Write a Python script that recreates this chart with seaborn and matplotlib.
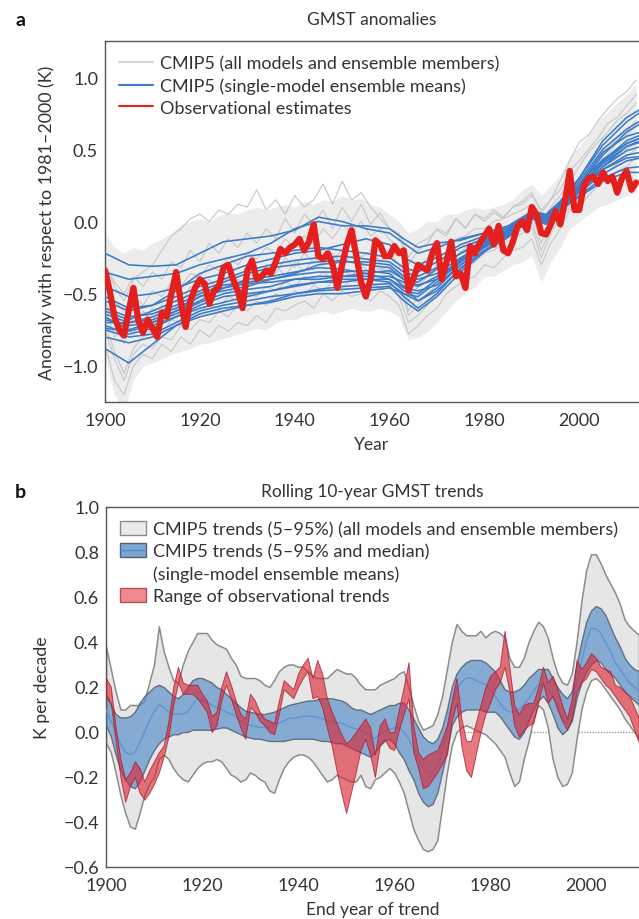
import numpy as np
import pandas as pd
import matplotlib
matplotlib.use("Agg")
import matplotlib.pyplot as plt
import seaborn as sns
from matplotlib.lines import Line2D
from matplotlib.patches import Patch
from matplotlib.ticker import FuncFormatter

# ------------------------------------------------------------------ data
# Panel a: observational estimate (annual, 1900-2012)
obs_years = list(range(1900, 2013))
obs = [-0.34, -0.48, -0.66, -0.75, -0.79, -0.62, -0.46, -0.68, -0.77, -0.68,
       -0.74, -0.80, -0.63, -0.66, -0.50, -0.35, -0.56, -0.73, -0.55, -0.46,
       -0.40, -0.43, -0.57, -0.48, -0.45, -0.32, -0.30, -0.40, -0.48, -0.60,
       -0.34, -0.27, -0.40, -0.38, -0.34, -0.36, -0.28, -0.19, -0.22, -0.18,
       -0.16, -0.12, -0.20, -0.14, -0.02, -0.24, -0.26, -0.22, -0.30, -0.46,
       -0.30, -0.16, -0.06, -0.24, -0.42, -0.52, -0.40, -0.13, -0.16, -0.24,
       -0.24, -0.17, -0.22, -0.20, -0.48, -0.40, -0.30, -0.32, -0.34, -0.22,
       -0.15, -0.40, -0.28, -0.14, -0.38, -0.36, -0.46, -0.17, -0.22, -0.15,
       -0.10, -0.05, -0.16, -0.03, -0.20, -0.22, -0.14, -0.03, 0.00, -0.06,
       0.10, 0.05, -0.08, -0.09, -0.02, 0.07, -0.02, 0.14, 0.35, 0.08,
       0.08, 0.25, 0.30, 0.31, 0.26, 0.34, 0.28, 0.31, 0.20, 0.30,
       0.35, 0.22, 0.27]

# Panel a: CMIP5 single-model ensemble means
mean_years = [1900, 1905, 1910, 1915, 1920, 1925, 1930, 1935, 1940, 1945, 1950, 1955, 1960,
              1963, 1966, 1970, 1975, 1980, 1985, 1990, 1993, 1996, 2000, 2005, 2010, 2013]
model_means = {
    "m01": [-0.22, -0.30, -0.31, -0.30, -0.22, -0.14, -0.12, -0.10, -0.06, 0.03, 0.00, -0.05, -0.08, -0.15, -0.22, -0.18, -0.12, -0.08, -0.03, 0.07, 0.04, 0.14, 0.30, 0.53, 0.69, 0.76],
    "m02": [-0.35, -0.40, -0.38, -0.36, -0.30, -0.26, -0.22, -0.15, -0.05, 0.00, -0.03, -0.03, -0.05, -0.12, -0.18, -0.15, -0.13, -0.08, -0.04, 0.06, 0.04, 0.12, 0.26, 0.48, 0.59, 0.62],
    "m03": [-0.55, -0.62, -0.58, -0.48, -0.36, -0.30, -0.24, -0.22, -0.20, -0.18, -0.20, -0.22, -0.25, -0.32, -0.35, -0.28, -0.18, -0.12, -0.06, 0.06, 0.02, 0.11, 0.26, 0.43, 0.54, 0.58],
    "m04": [-0.62, -0.68, -0.62, -0.55, -0.48, -0.42, -0.36, -0.32, -0.30, -0.28, -0.27, -0.30, -0.32, -0.40, -0.42, -0.33, -0.22, -0.14, -0.07, 0.05, 0.01, 0.10, 0.23, 0.40, 0.52, 0.55],
    "m05": [-0.66, -0.75, -0.70, -0.62, -0.55, -0.46, -0.40, -0.38, -0.35, -0.32, -0.33, -0.36, -0.40, -0.48, -0.50, -0.40, -0.26, -0.15, -0.07, 0.06, 0.02, 0.11, 0.22, 0.36, 0.46, 0.48],
    "m06": [-0.70, -0.70, -0.66, -0.60, -0.52, -0.48, -0.45, -0.40, -0.37, -0.35, -0.35, -0.34, -0.36, -0.45, -0.55, -0.46, -0.30, -0.18, -0.09, 0.04, 0.01, 0.10, 0.20, 0.33, 0.42, 0.44],
    "m07": [-0.72, -0.78, -0.74, -0.66, -0.58, -0.52, -0.50, -0.48, -0.45, -0.42, -0.40, -0.40, -0.42, -0.52, -0.60, -0.50, -0.32, -0.20, -0.10, 0.03, -0.01, 0.09, 0.18, 0.30, 0.37, 0.38],
    "m08": [-0.75, -0.80, -0.78, -0.70, -0.62, -0.58, -0.55, -0.52, -0.50, -0.48, -0.47, -0.46, -0.45, -0.55, -0.62, -0.52, -0.35, -0.21, -0.11, 0.02, -0.02, 0.08, 0.17, 0.28, 0.34, 0.34],
    "m09": [-0.88, -0.98, -0.85, -0.72, -0.64, -0.60, -0.58, -0.56, -0.52, -0.50, -0.50, -0.48, -0.46, -0.50, -0.55, -0.48, -0.33, -0.20, -0.10, 0.03, 0.00, 0.09, 0.20, 0.36, 0.44, 0.45],
    "m10": [-0.80, -0.84, -0.80, -0.72, -0.66, -0.62, -0.58, -0.55, -0.50, -0.47, -0.45, -0.44, -0.43, -0.50, -0.52, -0.42, -0.28, -0.17, -0.08, 0.05, 0.02, 0.12, 0.24, 0.42, 0.56, 0.60],
    "m11": [-0.60, -0.66, -0.64, -0.58, -0.50, -0.44, -0.42, -0.40, -0.36, -0.30, -0.28, -0.28, -0.30, -0.38, -0.40, -0.36, -0.25, -0.16, -0.08, 0.04, 0.02, 0.11, 0.25, 0.46, 0.62, 0.68],
    "m12": [-0.68, -0.72, -0.70, -0.64, -0.56, -0.50, -0.47, -0.45, -0.40, -0.38, -0.38, -0.38, -0.38, -0.42, -0.45, -0.38, -0.27, -0.16, -0.08, 0.05, 0.03, 0.12, 0.23, 0.38, 0.49, 0.52],
    "m13": [-0.52, -0.60, -0.58, -0.52, -0.45, -0.40, -0.34, -0.30, -0.27, -0.25, -0.24, -0.26, -0.28, -0.35, -0.38, -0.32, -0.22, -0.13, -0.06, 0.06, 0.04, 0.13, 0.28, 0.50, 0.64, 0.70],
    "m14": [-0.74, -0.76, -0.72, -0.66, -0.60, -0.56, -0.52, -0.48, -0.44, -0.42, -0.42, -0.40, -0.40, -0.46, -0.48, -0.44, -0.30, -0.18, -0.09, 0.04, 0.01, 0.10, 0.21, 0.38, 0.52, 0.56],
    "m15": [-0.64, -0.70, -0.68, -0.62, -0.52, -0.46, -0.43, -0.42, -0.40, -0.40, -0.38, -0.36, -0.34, -0.40, -0.44, -0.40, -0.28, -0.17, -0.08, 0.04, 0.02, 0.11, 0.22, 0.41, 0.54, 0.58],
    "m16": [-0.45, -0.52, -0.50, -0.46, -0.40, -0.36, -0.30, -0.26, -0.22, -0.20, -0.16, -0.12, -0.16, -0.25, -0.30, -0.25, -0.16, -0.10, -0.05, 0.07, 0.05, 0.14, 0.30, 0.56, 0.72, 0.78],
}

# Panel a: CMIP5 individual members (every 2nd year, 1900-2012) and their spread
member_years = list(range(1900, 2013, 2))
members = {
    "r01": [-0.30, -0.42, -0.50, -0.38, -0.45, -0.35, -0.40, -0.28, -0.32, -0.20,
            -0.28, -0.15, -0.22, -0.12, -0.18, -0.08, -0.15, -0.05, -0.12, 0.02,
            -0.08, 0.05, -0.02, 0.08, -0.05, 0.10, 0.00, 0.12, -0.02, 0.06,
            -0.05, -0.08, -0.25, -0.15, -0.12, -0.06, -0.10, 0.02, -0.05, 0.05,
            0.00, 0.06, 0.02, 0.10, 0.12, 0.18, 0.08, 0.15, 0.22, 0.35,
            0.42, 0.50, 0.58, 0.68, 0.72, 0.80, 0.88],
    "r02": [-0.85, -1.10, -1.20, -1.00, -0.92, -0.95, -0.85, -0.90, -0.80, -0.85,
            -0.75, -0.80, -0.72, -0.76, -0.70, -0.72, -0.65, -0.70, -0.60, -0.62,
            -0.58, -0.55, -0.60, -0.50, -0.55, -0.48, -0.52, -0.50, -0.55, -0.48,
            -0.52, -0.58, -0.78, -0.72, -0.65, -0.60, -0.50, -0.45, -0.40, -0.38,
            -0.30, -0.32, -0.25, -0.20, -0.18, -0.12, -0.30, -0.15, -0.05, 0.08,
            0.10, 0.18, 0.25, 0.30, 0.35, 0.38, 0.45],
    "r03": [-0.55, -0.70, -0.85, -0.65, -0.70, -0.60, -0.65, -0.52, -0.58, -0.45,
            -0.52, -0.40, -0.48, -0.38, -0.45, -0.35, -0.40, -0.30, -0.36, -0.25,
            -0.32, -0.22, -0.28, -0.18, -0.26, -0.20, -0.15, -0.25, -0.20, -0.28,
            -0.22, -0.30, -0.55, -0.45, -0.38, -0.30, -0.32, -0.20, -0.22, -0.15,
            -0.12, -0.10, -0.05, -0.08, 0.00, 0.05, -0.15, 0.02, 0.10, 0.20,
            0.28, 0.35, 0.45, 0.50, 0.58, 0.62, 0.70],
    "r04": [-0.70, -0.90, -1.05, -0.88, -0.80, -0.75, -0.78, -0.68, -0.70, -0.62,
            -0.62, -0.58, -0.60, -0.52, -0.55, -0.50, -0.52, -0.45, -0.48, -0.42,
            -0.45, -0.38, -0.42, -0.35, -0.40, -0.34, -0.38, -0.30, -0.36, -0.32,
            -0.35, -0.42, -0.65, -0.58, -0.50, -0.44, -0.38, -0.32, -0.28, -0.24,
            -0.20, -0.16, -0.14, -0.08, -0.06, 0.00, -0.20, -0.05, 0.05, 0.12,
            0.18, 0.25, 0.32, 0.40, 0.45, 0.50, 0.56],
    "r05": [-0.45, -0.55, -0.62, -0.50, -0.58, -0.48, -0.52, -0.42, -0.45, -0.36,
            -0.38, -0.30, -0.34, -0.25, -0.30, -0.22, -0.26, -0.18, -0.22, -0.12,
            -0.18, -0.10, -0.15, -0.05, -0.12, -0.02, -0.08, 0.00, -0.10, -0.05,
            -0.12, -0.18, -0.40, -0.32, -0.25, -0.20, -0.15, -0.12, -0.10, -0.05,
            -0.05, 0.00, 0.02, 0.05, 0.08, 0.12, -0.02, 0.10, 0.18, 0.28,
            0.38, 0.48, 0.55, 0.62, 0.70, 0.75, 0.82],
    "r06": [-0.60, -0.80, -0.72, -0.78, -0.62, -0.70, -0.58, -0.66, -0.55, -0.60,
            -0.48, -0.55, -0.44, -0.50, -0.40, -0.46, -0.35, -0.42, -0.30, -0.38,
            -0.28, -0.35, -0.25, -0.30, -0.22, -0.30, -0.24, -0.32, -0.26, -0.34,
            -0.30, -0.36, -0.62, -0.52, -0.45, -0.40, -0.28, -0.25, -0.18, -0.20,
            -0.10, -0.12, -0.06, -0.04, 0.02, 0.04, -0.10, 0.00, 0.12, 0.18,
            0.25, 0.32, 0.40, 0.46, 0.55, 0.60, 0.66],
    "r07": [-0.75, -0.95, -1.10, -0.92, -0.85, -0.88, -0.80, -0.82, -0.72, -0.75,
            -0.68, -0.70, -0.62, -0.66, -0.58, -0.62, -0.55, -0.58, -0.50, -0.54,
            -0.48, -0.52, -0.44, -0.48, -0.42, -0.46, -0.40, -0.44, -0.42, -0.46,
            -0.44, -0.52, -0.70, -0.65, -0.58, -0.48, -0.42, -0.35, -0.32, -0.28,
            -0.22, -0.20, -0.15, -0.12, -0.08, -0.04, -0.25, -0.08, 0.02, 0.10,
            0.15, 0.22, 0.28, 0.34, 0.40, 0.45, 0.50],
    "r08": [-0.30, -0.45, -0.55, -0.40, -0.35, -0.30, -0.20, -0.10, -0.05, 0.02,
            0.05, 0.00, 0.08, 0.05, 0.12, 0.10, 0.22, 0.08, 0.15, 0.05,
            0.18, 0.10, 0.15, 0.26, 0.12, 0.28, 0.15, 0.20, 0.10, 0.02,
            -0.05, -0.10, -0.30, -0.20, -0.15, -0.05, -0.08, 0.02, -0.04, 0.05,
            0.02, 0.08, 0.03, 0.10, 0.14, 0.20, 0.06, 0.15, 0.28, 0.42,
            0.55, 0.60, 0.70, 0.78, 0.85, 0.90, 0.98],
}
member_hi = [-0.08, -0.18, -0.22, -0.18, -0.20, -0.15, -0.12, -0.08, -0.02, 0.00,
             0.02, 0.00, 0.04, 0.06, 0.05, 0.08, 0.10, 0.08, 0.10, 0.12,
             0.10, 0.14, 0.12, 0.15, 0.14, 0.18, 0.15, 0.16, 0.12, 0.10,
             0.05, 0.00, -0.08, -0.05, 0.00, 0.00, 0.05, 0.05, 0.08, 0.10,
             0.08, 0.10, 0.12, 0.15, 0.22, 0.26, 0.18, 0.25, 0.32, 0.45,
             0.52, 0.60, 0.70, 0.76, 0.82, 0.88, 0.95]
member_lo = [-0.95, -1.20, -1.30, -1.10, -1.00, -0.98, -0.95, -0.92, -0.90, -0.88,
             -0.85, -0.84, -0.82, -0.80, -0.78, -0.76, -0.74, -0.75, -0.70, -0.68,
             -0.68, -0.65, -0.64, -0.62, -0.64, -0.62, -0.60, -0.62, -0.62, -0.60,
             -0.62, -0.66, -0.82, -0.80, -0.76, -0.70, -0.62, -0.55, -0.50, -0.45,
             -0.38, -0.38, -0.34, -0.30, -0.28, -0.24, -0.42, -0.28, -0.18, -0.05,
             0.00, 0.05, 0.10, 0.12, 0.15, 0.18, 0.20]

# Panel b: rolling 10-year trends (K per decade), end years 1900-2011
trend_years = list(range(1900, 2012))
all_hi = [0.38, 0.28, 0.18, 0.10, 0.10, 0.12, 0.12, 0.12, 0.14, 0.22,
          0.30, 0.47, 0.36, 0.29, 0.23, 0.22, 0.30, 0.36, 0.40, 0.44,
          0.44, 0.44, 0.41, 0.39, 0.38, 0.37, 0.33, 0.30, 0.25, 0.24,
          0.24, 0.24, 0.23, 0.21, 0.20, 0.23, 0.27, 0.29, 0.30, 0.30,
          0.29, 0.29, 0.27, 0.25, 0.24, 0.24, 0.24, 0.26, 0.28, 0.27,
          0.26, 0.26, 0.24, 0.21, 0.19, 0.19, 0.19, 0.21, 0.22, 0.23,
          0.24, 0.26, 0.27, 0.20, 0.12, 0.05, 0.01, 0.02, 0.03, 0.08,
          0.16, 0.28, 0.40, 0.48, 0.45, 0.43, 0.43, 0.43, 0.45, 0.42,
          0.44, 0.45, 0.44, 0.42, 0.33, 0.29, 0.29, 0.33, 0.40, 0.45,
          0.49, 0.47, 0.42, 0.33, 0.26, 0.22, 0.21, 0.26, 0.40, 0.58,
          0.72, 0.79, 0.79, 0.75, 0.70, 0.66, 0.62, 0.57, 0.50, 0.47,
          0.45, 0.43]
all_lo = [-0.05, -0.09, -0.18, -0.28, -0.36, -0.42, -0.43, -0.36, -0.28, -0.23,
          -0.20, -0.12, -0.10, -0.12, -0.16, -0.19, -0.21, -0.22, -0.19, -0.16,
          -0.14, -0.13, -0.13, -0.12, -0.13, -0.16, -0.19, -0.20, -0.22, -0.21,
          -0.18, -0.19, -0.21, -0.22, -0.26, -0.27, -0.21, -0.16, -0.13, -0.11,
          -0.10, -0.10, -0.11, -0.13, -0.16, -0.19, -0.22, -0.21, -0.19, -0.20,
          -0.21, -0.22, -0.22, -0.19, -0.24, -0.25, -0.21, -0.20, -0.18, -0.16,
          -0.18, -0.22, -0.27, -0.35, -0.43, -0.48, -0.52, -0.53, -0.52, -0.48,
          -0.33, -0.18, -0.06, 0.00, 0.02, 0.03, 0.02, 0.01, 0.00, -0.01,
          -0.03, -0.05, -0.08, -0.11, -0.18, -0.24, -0.22, -0.12, -0.04, 0.06,
          0.12, 0.10, 0.02, -0.12, -0.20, -0.24, -0.23, -0.18, -0.03, 0.10,
          0.18, 0.23, 0.24, 0.22, 0.19, 0.16, 0.13, 0.10, 0.06, 0.03,
          0.00, -0.03]
mm_hi = [0.17, 0.12, 0.08, 0.065, 0.065, 0.07, 0.09, 0.13, 0.16, 0.18,
         0.20, 0.21, 0.20, 0.18, 0.16, 0.15, 0.17, 0.20, 0.23, 0.24,
         0.24, 0.23, 0.22, 0.20, 0.19, 0.17, 0.15, 0.13, 0.11, 0.095,
         0.09, 0.085, 0.08, 0.08, 0.085, 0.09, 0.10, 0.11, 0.12, 0.125,
         0.13, 0.135, 0.14, 0.14, 0.145, 0.15, 0.15, 0.15, 0.145, 0.14,
         0.13, 0.11, 0.10, 0.10, 0.09, 0.08, 0.09, 0.10, 0.11, 0.12,
         0.12, 0.13, 0.13, 0.10, 0.06, 0.02, -0.02, -0.04, -0.05, -0.03,
         0.02, 0.10, 0.20, 0.26, 0.29, 0.31, 0.32, 0.32, 0.32, 0.31,
         0.29, 0.27, 0.23, 0.19, 0.18, 0.18, 0.19, 0.21, 0.24, 0.26,
         0.28, 0.28, 0.28, 0.24, 0.20, 0.17, 0.15, 0.18, 0.30, 0.40,
         0.49, 0.54, 0.56, 0.55, 0.52, 0.47, 0.42, 0.38, 0.33, 0.30,
         0.28, 0.27]
mm_lo = [0.03, -0.02, -0.10, -0.17, -0.21, -0.24, -0.25, -0.22, -0.17, -0.12,
         -0.08, -0.05, -0.03, -0.02, -0.01, -0.01, 0.00, 0.00, 0.01, 0.01,
         0.01, 0.01, 0.01, 0.015, 0.02, 0.02, 0.01, 0.00, -0.01, -0.02,
         -0.025, -0.03, -0.03, -0.035, -0.04, -0.04, -0.04, -0.04, -0.035, -0.03,
         -0.03, -0.03, -0.03, -0.03, -0.035, -0.04, -0.04, -0.045, -0.05, -0.05,
         -0.06, -0.07, -0.08, -0.09, -0.10, -0.11, -0.09, -0.06, -0.04, -0.03,
         -0.05, -0.09, -0.12, -0.17, -0.21, -0.27, -0.31, -0.33, -0.32, -0.27,
         -0.18, -0.08, 0.03, 0.07, 0.09, 0.10, 0.10, 0.10, 0.10, 0.09,
         0.09, 0.09, 0.07, 0.04, 0.01, -0.02, -0.03, 0.00, 0.05, 0.10,
         0.14, 0.16, 0.13, 0.08, 0.02, -0.01, 0.01, 0.05, 0.15, 0.22,
         0.27, 0.30, 0.32, 0.31, 0.28, 0.26, 0.24, 0.21, 0.18, 0.16,
         0.14, 0.12]
mm_median = [0.10, 0.05, 0.00, -0.05, -0.09, -0.10, -0.09, -0.05, 0.00, 0.05,
             0.09, 0.12, 0.11, 0.09, 0.08, 0.08, 0.08, 0.09, 0.12, 0.15,
             0.14, 0.13, 0.12, 0.11, 0.10, 0.09, 0.08, 0.07, 0.05, 0.035,
             0.03, 0.025, 0.02, 0.02, 0.025, 0.03, 0.04, 0.05, 0.06, 0.06,
             0.065, 0.07, 0.07, 0.07, 0.065, 0.06, 0.05, 0.045, 0.04, 0.04,
             0.03, 0.02, 0.015, 0.01, 0.00, -0.02, -0.03, -0.01, 0.00, 0.01,
             0.02, 0.02, 0.00, -0.03, -0.07, -0.12, -0.16, -0.18, -0.18, -0.15,
             -0.09, 0.00, 0.12, 0.19, 0.22, 0.24, 0.24, 0.23, 0.22, 0.21,
             0.19, 0.16, 0.13, 0.10, 0.09, 0.09, 0.10, 0.12, 0.15, 0.18,
             0.21, 0.20, 0.19, 0.16, 0.12, 0.05, 0.04, 0.10, 0.22, 0.31,
             0.40, 0.46, 0.46, 0.44, 0.40, 0.36, 0.31, 0.28, 0.25, 0.22,
             0.20, 0.18]
obs_hi = [0.24, 0.20, 0.02, -0.12, -0.21, -0.18, -0.13, -0.16, -0.22, -0.17,
          -0.13, -0.09, -0.06, 0.05, 0.20, 0.29, 0.22, 0.21, 0.21, 0.21,
          0.17, 0.14, 0.07, 0.09, 0.20, 0.27, 0.21, 0.14, 0.08, 0.06,
          0.17, 0.14, 0.09, 0.06, 0.05, 0.04, 0.14, 0.23, 0.21, 0.19,
          0.26, 0.30, 0.33, 0.24, 0.32, 0.26, 0.15, 0.09, 0.04, -0.01,
          -0.05, -0.03, 0.00, 0.03, 0.06, 0.02, -0.10, 0.03, 0.06, 0.00,
          0.00, 0.10, 0.20, 0.31, 0.03, -0.09, -0.12, -0.10, -0.09, -0.08,
          -0.03, 0.03, 0.14, 0.24, 0.06, -0.04, -0.04, 0.04, 0.12, 0.20,
          0.25, 0.27, 0.29, 0.45, 0.29, 0.12, 0.08, 0.12, 0.13, 0.13,
          0.20, 0.29, 0.22, 0.25, 0.19, 0.12, 0.06, 0.15, 0.32, 0.28,
          0.31, 0.35, 0.33, 0.29, 0.28, 0.27, 0.21, 0.20, 0.18, 0.16,
          0.11, 0.06]
obs_lo = [0.15, 0.13, -0.04, -0.20, -0.31, -0.24, -0.20, -0.27, -0.30, -0.27,
          -0.23, -0.18, -0.11, -0.02, 0.12, 0.22, 0.17, 0.17, 0.17, 0.15,
          0.12, 0.09, 0.00, 0.03, 0.14, 0.21, 0.15, 0.08, 0.02, -0.03,
          0.11, 0.09, 0.05, 0.03, 0.00, -0.01, 0.08, 0.19, 0.17, 0.15,
          0.20, 0.24, 0.27, 0.15, 0.16, 0.11, 0.02, -0.06, -0.17, -0.27,
          -0.36, -0.27, -0.18, -0.08, -0.03, -0.10, -0.20, -0.06, -0.03, -0.07,
          -0.08, 0.01, 0.08, 0.15, -0.09, -0.16, -0.25, -0.24, -0.21, -0.18,
          -0.14, -0.10, 0.05, 0.13, -0.06, -0.17, -0.20, -0.10, 0.00, 0.08,
          0.13, 0.19, 0.22, 0.29, 0.18, 0.03, -0.02, 0.01, 0.03, 0.04,
          0.13, 0.22, 0.13, 0.16, 0.10, 0.05, 0.01, 0.06, 0.18, 0.22,
          0.24, 0.28, 0.27, 0.24, 0.21, 0.19, 0.16, 0.13, 0.10, 0.07,
          0.01, -0.05]

for arr in (all_hi, all_lo, mm_hi, mm_lo, mm_median, obs_hi, obs_lo):
    assert len(arr) == len(trend_years), len(arr)
assert len(obs) == len(obs_years)
for arr in list(members.values()) + [member_hi, member_lo]:
    assert len(arr) == len(member_years), len(arr)
for arr in model_means.values():
    assert len(arr) == len(mean_years)

# ------------------------------------------------------------------ style
sns.set_style("white")
plt.rcParams["font.family"] = ["Lato", "DejaVu Sans"]
plt.rcParams["axes.unicode_minus"] = True
TXT = "#333333"
SPINE = "#555555"

def fmt1(v, _pos):
    if abs(v) < 1e-9:
        return "0.0"
    return f"{v:.1f}".replace("-", "\u2212")

fig = plt.figure(figsize=(6.39, 9.2), dpi=100)
axa = fig.add_axes([105 / 639, 1 - 403 / 920, 534 / 639, 361 / 920])
axb = fig.add_axes([106 / 639, 1 - 868 / 920, 533 / 639, 360 / 920])

# ------------------------------------------------------------------ panel a
axa.fill_between(member_years, member_lo, member_hi, color="#ececec", lw=0, zorder=1)
dfm = pd.DataFrame([(y, v, k) for k, arr in members.items() for y, v in zip(member_years, arr)],
                   columns=["year", "anom", "run"])
sns.lineplot(data=dfm, x="year", y="anom", units="run", estimator=None, color="#c6c6c6",
             lw=0.8, legend=False, ax=axa, zorder=2)
dfb = pd.DataFrame([(y, v, k) for k, arr in model_means.items() for y, v in zip(mean_years, arr)],
                   columns=["year", "anom", "model"])
sns.lineplot(data=dfb, x="year", y="anom", units="model", estimator=None, color="#3b7bc8",
             lw=1.15, legend=False, ax=axa, zorder=3)
dfo = pd.DataFrame({"year": obs_years, "anom": obs})
sns.lineplot(data=dfo, x="year", y="anom", color="#e3201d", lw=4.5, legend=False, ax=axa, zorder=4)

axa.set_xlim(1900, 2012.6)
axa.set_ylim(-1.25, 1.25)
axa.set_xticks([1900, 1920, 1940, 1960, 1980, 2000])
axa.set_yticks([-1.0, -0.5, 0.0, 0.5, 1.0])
axa.yaxis.set_major_formatter(FuncFormatter(fmt1))
axa.set_xlabel("Year", fontsize=12.5, color=TXT, labelpad=6)
axa.set_ylabel("Anomaly with respect to 1981\u20132000 (K)", fontsize=12.8, color=TXT, labelpad=5)
axa.set_title("GMST anomalies", fontsize=12.5, color=TXT, pad=12)
handles_a = [Line2D([], [], color="#d6d6d6", lw=1.5),
             Line2D([], [], color="#3b7bc8", lw=1.5),
             Line2D([], [], color="#e3201d", lw=1.5)]
labels_a = ["CMIP5 (all models and ensemble members)",
            "CMIP5 (single-model ensemble means)",
            "Observational estimates"]
axa.legend(handles_a, labels_a, loc="upper left", bbox_to_anchor=(0, 1), borderaxespad=0,
           borderpad=0.8, frameon=False, fontsize=13, handlelength=1.85,
           handletextpad=0.4, labelspacing=0.32, labelcolor=TXT)

# ------------------------------------------------------------------ panel b
axb.axhline(0, color="#9a9a9a", lw=1.0, ls=(0, (1, 1)), zorder=1)
axb.fill_between(trend_years, all_lo, all_hi, facecolor="#e6e6e6", edgecolor="#8c8c8c",
                 lw=1.1, zorder=2)
axb.fill_between(trend_years, mm_lo, mm_hi, facecolor=(0.29, 0.53, 0.78, 0.62),
                 edgecolor=(0.33, 0.38, 0.45, 0.85), lw=1.0, zorder=3)
dfmed = pd.DataFrame({"year": trend_years, "trend": mm_median})
sns.lineplot(data=dfmed, x="year", y="trend", color="#5c95d0", lw=1.0, legend=False, ax=axb, zorder=4)
axb.fill_between(trend_years, obs_lo, obs_hi, facecolor=(0.86, 0.14, 0.2, 0.62),
                 edgecolor=(0.68, 0.12, 0.2, 0.8), lw=0.7, zorder=5)

axb.set_xlim(1900, 2011.0)
axb.set_ylim(-0.6, 1.0)
axb.set_xticks([1900, 1920, 1940, 1960, 1980, 2000])
axb.set_yticks([-0.6, -0.4, -0.2, 0.0, 0.2, 0.4, 0.6, 0.8, 1.0])
axb.yaxis.set_major_formatter(FuncFormatter(fmt1))
axb.set_xlabel("End year of trend", fontsize=12.5, color=TXT, labelpad=6)
axb.set_ylabel("K per decade", fontsize=12.8, color=TXT, labelpad=10)
axb.set_title("Rolling 10-year GMST trends", fontsize=12.5, color=TXT, pad=8)
handles_b = [Patch(facecolor="#ebebeb", edgecolor="#8c8c8c", lw=1.0),
             (Patch(facecolor="#7aa6d4", edgecolor="#55606f", lw=1.0),
              Line2D([], [], color="#4f8bcc", lw=1.0)),
             Patch(facecolor="none", edgecolor="none"),
             Patch(facecolor="#f08a8e", edgecolor="#b8505a", lw=1.0)]
labels_b = ["CMIP5 trends (5\u201395%) (all models and ensemble members)",
            "CMIP5 trends (5\u201395% and median)",
            "(single-model ensemble means)",
            "Range of observational trends"]
axb.legend(handles_b, labels_b, loc="upper left", bbox_to_anchor=(0, 1), borderaxespad=0,
           borderpad=0.8, frameon=False, fontsize=13, handlelength=1.4, handleheight=0.8,
           handletextpad=0.4, labelspacing=0.32, labelcolor=TXT)

for ax in (axa, axb):
    for side in ("left", "bottom", "top"):
        ax.spines[side].set_color(SPINE)
        ax.spines[side].set_linewidth(1.0)
    ax.spines["right"].set_visible(False)
    ax.tick_params(direction="in", length=3, width=0.8, color=SPINE, labelsize=13,
                   labelcolor=TXT, pad=5)
    ax.tick_params(axis="x", pad=7)
    ax.grid(False)

fig.text(15 / 639, 1 - 20 / 920, "a", fontsize=14, fontweight="bold", color="#111111", va="center")
fig.text(15 / 639, 1 - 493 / 920, "b", fontsize=14, fontweight="bold", color="#111111", va="center")

fig.savefig("out.png", dpi=100)
